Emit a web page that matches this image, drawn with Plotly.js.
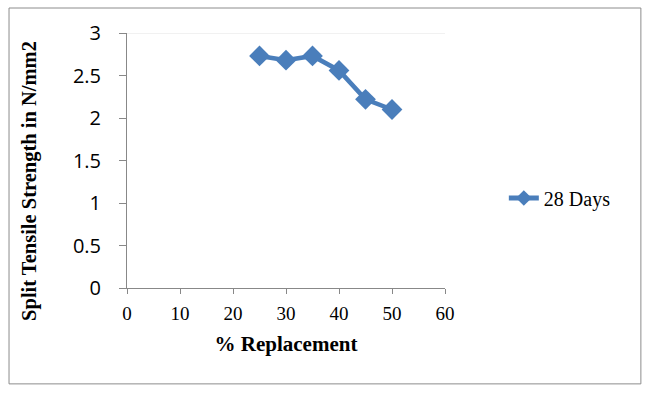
<!DOCTYPE html>
<html><head><meta charset="utf-8">
<script src="https://cdn.plot.ly/plotly-3.0.1.min.js"></script>
<style>body{margin:0;padding:0;background:#fff}#chart{width:650px;height:398px}</style>
</head><body><div id="chart"></div>
<script>
const replacement = [25, 30, 35, 40, 45, 50];
const strength28 = [2.73, 2.68, 2.73, 2.56, 2.22, 2.10];
const seriesName = "28 Days";
const xTicks = [0, 10, 20, 30, 40, 50, 60];
const yTicks = [0, 0.5, 1, 1.5, 2, 2.5, 3];
const xTitle = "% Replacement";
const yTitle = "Split Tensile Strength in N/mm2";

const blue = "#4a7ebb";
const serif = "Liberation Serif, Times New Roman, serif";
const trace = {
  x: replacement, y: strength28, name: seriesName, type: "scatter", mode: "lines+markers",
  line: {color: blue, width: 4.5},
  marker: {symbol: "diamond", size: 16, color: blue}
};
const layout = {
  width: 650, height: 398,
  margin: {l: 127, r: 205, t: 33, b: 110},
  paper_bgcolor: "#fff", plot_bgcolor: "#fff",
  showlegend: true,
  legend: {x: 1.185, y: 0.353, xanchor: "left", yanchor: "middle",
    font: {family: serif, size: 20, color: "#000"},
    bgcolor: "rgba(0,0,0,0)", itemsizing: "constant"},
  xaxis: {
    range: [0, 60], tickvals: xTicks, ticktext: xTicks.map(String),
    showgrid: false, zeroline: false, showline: true, linecolor: "#888", linewidth: 1,
    ticks: "outside", ticklen: 5, tickcolor: "#888", ticklabelstandoff: 3,
    tickfont: {family: serif, size: 19, color: "#000"},
    title: {text: xTitle, standoff: 13,
      font: {family: serif, size: 21, color: "#000", weight: "bold"}}
  },
  yaxis: {
    range: [0, 3], tickvals: yTicks, ticktext: yTicks.map(String),
    showgrid: false, zeroline: false, showline: true, linecolor: "#888", linewidth: 1,
    ticks: "outside", ticklen: 7, tickcolor: "#888", ticklabelstandoff: 14,
    tickfont: {family: "Open Sans, Noto Sans, sans-serif", size: 20, color: "#000"}
  },
  annotations: [
    {text: yTitle, xref: "paper", yref: "paper", x: -0.305, y: 0.42, xanchor: "center", yanchor: "middle",
     textangle: -90, showarrow: false,
     font: {family: serif, size: 20.5, color: "#000", weight: "bold"}}
  ],
  shapes: [
    {type: "line", xref: "x", yref: "y", x0: 0, x1: 60, y0: 3, y1: 3, line: {color: "#e4e4e4", width: 1}, layer: "below"},
    {type: "rect", xref: "paper", yref: "paper", x0: -0.371, x1: 1.616, y0: -0.376, y1: 1.098, line: {color: "#8c8c8c", width: 1}}
  ]
};
Plotly.newPlot("chart", [trace], layout, {displayModeBar: false, staticPlot: true});
</script></body></html>
